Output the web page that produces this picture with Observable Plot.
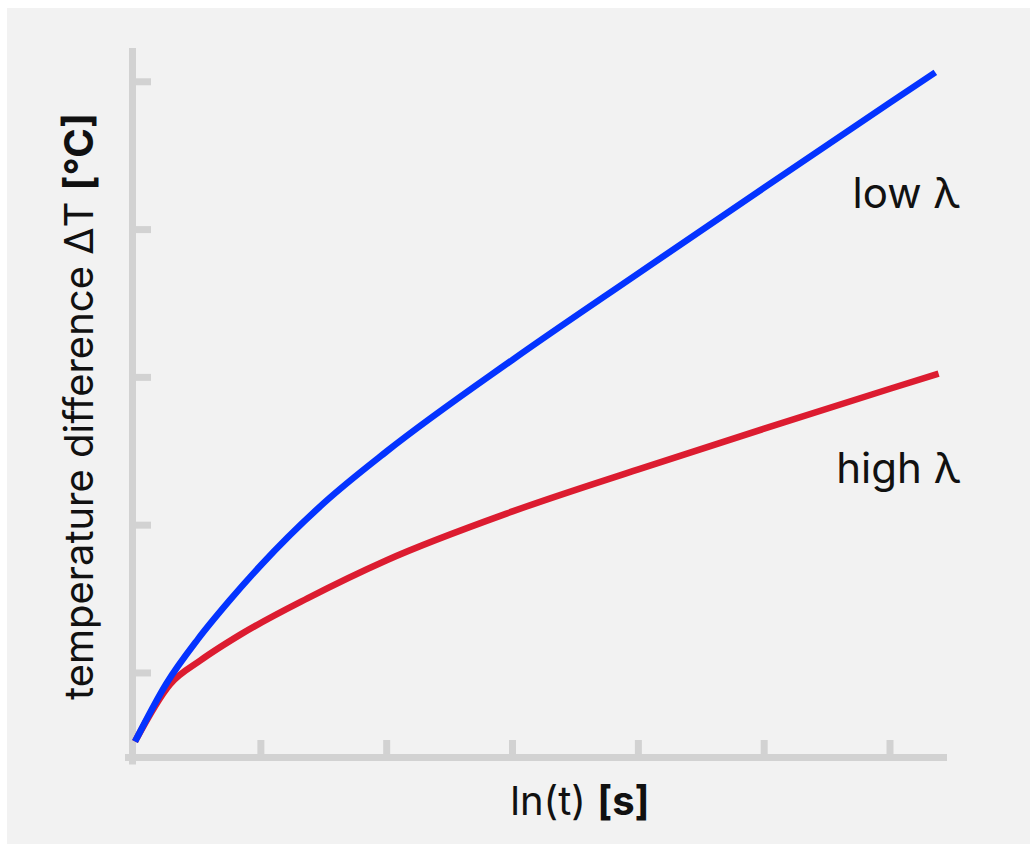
<!DOCTYPE html>
<html>
<head>
<meta charset="utf-8">
<script src="https://cdn.jsdelivr.net/npm/d3@7"></script>
<script src="https://cdn.jsdelivr.net/npm/@observablehq/plot@0.6"></script>
<style>
html, body { margin: 0; padding: 0; background: #ffffff; }
#panel { position: absolute; left: 7px; top: 8px; width: 1023px; height: 836px; background: #f2f2f2; }
</style>
</head>
<body>
<div id="panel"></div>
<script>
// ---- data ----
const xTicks = [1, 2, 3, 4, 5, 6];
const yTicks = [1, 2, 3, 4, 5];

const lowLambdaX = [0, 0.25, 0.5, 0.75, 1, 1.5, 2, 3, 4, 5, 6, 6.36];
const lowLambdaY = [0.536, 0.929, 1.229, 1.489, 1.729, 2.149, 2.499, 3.119, 3.704, 4.284, 4.859, 5.064];

const highLambdaX = [0, 0.28, 0.52, 0.84, 1.37, 2, 3, 4, 5, 6, 6.386];
const highLambdaY = [0.536, 0.925, 1.085, 1.261, 1.505, 1.763, 2.093, 2.378, 2.653, 2.923, 3.025];

const seriesNames = ["low λ", "high λ"];
const xLabel = ["ln(t) ", "[s]"];
const yLabel = ["temperature difference ΔT ", "[°C]"];

// ---- build tables ----
const low = lowLambdaX.map((x, i) => ({x, y: lowLambdaY[i], s: seriesNames[0]}));
const high = highLambdaX.map((x, i) => ({x, y: highLambdaY[i], s: seriesNames[1]}));

const axisColor = "#d2d2d2";
const blue = "#0433ff";
const red = "#dc1c30";
const font = "Inter, 'Open Sans', sans-serif";

const chart = Plot.plot({
  width: 1023,
  height: 836,
  marginLeft: 125,
  marginRight: 87,
  marginTop: 43,
  marginBottom: 87,
  style: {background: "#f2f2f2", overflow: "visible"},
  x: {domain: [-0.02, 6.425], axis: null},
  y: {domain: [0.428, 5.205], axis: null},
  marks: [
    Plot.axisY({ticks: yTicks, tickSize: -19, stroke: axisColor, strokeWidth: 7, fill: "none", label: null}),
    Plot.axisX({ticks: xTicks, tickSize: -17, stroke: axisColor, strokeWidth: 7, fill: "none", label: null}),
    Plot.frame({anchor: "left", stroke: axisColor, strokeWidth: 7, insetBottom: -3.5}),
    Plot.frame({anchor: "bottom", stroke: axisColor, strokeWidth: 7, insetLeft: -4}),
    Plot.line(high, {x: "x", y: "y", stroke: red, strokeWidth: 6.5, curve: "monotone-x", strokeLinecap: "butt"}),
    Plot.line(low, {x: "x", y: "y", stroke: blue, strokeWidth: 6.5, curve: "monotone-x", strokeLinecap: "butt"}),
    Plot.text(low.slice(-1), {x: "x", y: "y", text: "s", textAnchor: "end", lineAnchor: "bottom",
      dx: 25, dy: 136, fontSize: 42, fontFamily: font, fill: "#111"}),
    Plot.text(high.slice(-1), {x: "x", y: "y", text: "s", textAnchor: "end", lineAnchor: "bottom",
      dx: 22, dy: 109, fontSize: 42, fontFamily: font, fill: "#111"})
  ]
});

document.getElementById("panel").appendChild(chart);

// axis titles with a bold unit part
const svg = d3.select(chart);
const xt = svg.append("text")
  .attr("x", 573).attr("y", 807)
  .attr("text-anchor", "middle")
  .attr("font-family", font).attr("font-size", 40).attr("fill", "#111");
xt.append("tspan").text(xLabel[0]);
xt.append("tspan").attr("font-weight", 700).text(xLabel[1]);

const yt = svg.append("text")
  .attr("transform", "translate(86,398.5) rotate(-90)")
  .attr("text-anchor", "middle")
  .attr("font-family", font).attr("font-size", 40).attr("fill", "#111");
yt.append("tspan").text(yLabel[0]);
yt.append("tspan").attr("font-weight", 700).text(yLabel[1]);
</script>
</body>
</html>
